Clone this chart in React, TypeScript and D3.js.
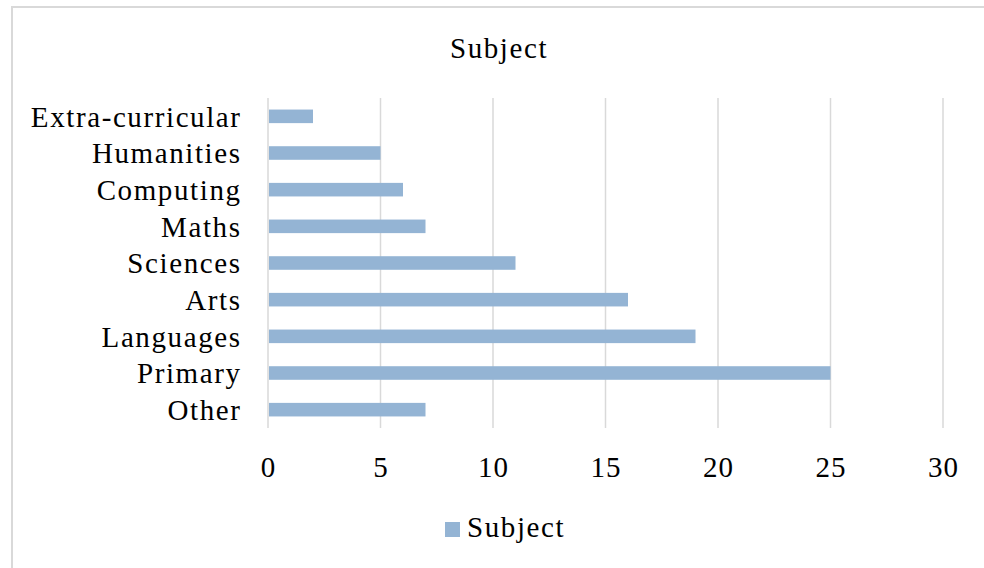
import React, {useMemo} from 'react';
import * as d3 from 'd3';

const categories = ['Extra-curricular', 'Humanities', 'Computing', 'Maths', 'Sciences', 'Arts', 'Languages', 'Primary', 'Other'];
const values = [2, 5, 6, 7, 11, 16, 19, 25, 7];
const xTicks = [0, 5, 10, 15, 20, 25, 30];
const seriesName = 'Subject';
const title = 'Subject';

const W = 984;
const H = 568;
const FONT = 'Liberation Serif, serif';
const BAR = '#94b4d4';
const GRID = '#d9d9d9';
// the reference text is a little wide, so letters get some spacing
const SPACING = 1.6;

const App: React.FC = () => {
  const margin = {left: 268, right: 41, top: 98, bottom: 140};

  const x = useMemo(() => d3.scaleLinear()
      .domain([0, 30])
      .range([margin.left, W - margin.right]), []);

  const y = useMemo(() => d3.scaleBand()
      .domain(categories)
      .range([margin.top, H - margin.bottom])
      .paddingInner(0.63)
      .paddingOuter(0.315), []);

  return (
      <div style={{position: 'absolute', left: 0, top: 0}}>
        <svg width={W} height={H} style={{display: 'block', background: '#fff'}}>
          <rect x={12} y={7} width={W} height={H} fill="none" stroke={GRID} strokeWidth={2}/>
          <text x={499} y={58} textAnchor="middle" fontFamily={FONT} fontSize={29}
                letterSpacing={SPACING} fill="#000">{title}</text>
          {xTicks.map(t => (
              <g key={t}>
                <line x1={x(t)} x2={x(t)} y1={margin.top} y2={H - margin.bottom}
                      stroke={GRID} strokeWidth={1.5}/>
                <text x={x(t) + 0.5} y={477} textAnchor="middle" fontFamily={FONT}
                      fontSize={29} letterSpacing={1} fill="#000">{t}</text>
              </g>
          ))}
          {categories.map((c, i) => (
              <g key={c}>
                <rect x={x(0) + 1} y={y(c)} width={x(values[i]) - x(0) - 1}
                      height={y.bandwidth()} fill={BAR}/>
                <text x={240 + SPACING} y={(y(c) ?? 0) + y.bandwidth() / 2} dy="0.355em"
                      textAnchor="end" fontFamily={FONT} fontSize={29}
                      letterSpacing={SPACING} fill="#000">{c}</text>
              </g>
          ))}
          <rect x={445} y={522} width={15} height={15} fill={BAR}/>
          <text x={467} y={537} fontFamily={FONT} fontSize={29} letterSpacing={SPACING}
                fill="#000">{seriesName}</text>
        </svg>
      </div>
  );
};

export default App;
